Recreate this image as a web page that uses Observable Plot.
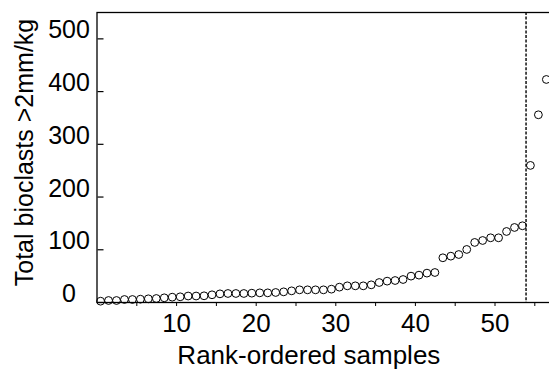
<!DOCTYPE html>
<html><head><meta charset="utf-8">
<script src="https://cdn.jsdelivr.net/npm/d3@7"></script>
<script src="https://cdn.jsdelivr.net/npm/@observablehq/plot@0.6"></script>
<style>html,body{margin:0;padding:0;background:#fff;overflow:hidden;width:549px;height:370px}</style>
</head><body><div id="chart"></div>
<script>
// Rank-ordered samples: total bioclasts >2mm per kg
const bioclasts = [2.5, 3.8, 3.8, 5.7, 5.7, 6.3, 7.0, 7.6, 8.9, 10.1,
  10.8, 12.3, 12.3, 12.7, 14.6, 16.4, 17.1, 17.1, 17.1, 17.7,
  18.3, 18.3, 19.0, 20.2, 22.1, 24.0, 24.0, 24.0, 24.0, 25.3,
  29.1, 31.6, 31.6, 31.6, 33.5, 37.9, 40.5, 41.7, 43.6, 50.0,
  51.9, 55.7, 56.9, 84.8, 87.9, 91.0, 100.6, 113.9, 117.6, 122.7,
  122.7, 134.7, 142.3, 145.5, 260, 356, 423];
const yTicks = [0, 100, 200, 300, 400, 500];
const xLabelTicks = [10, 20, 30, 40, 50];
const xMinorTicks = [5, 10, 15, 20, 25, 30, 35, 40, 45, 50, 55];
const cutoff = 53.9;           // dashed break between rank 54 and 55 (axis units)
const rankOffset = 0.55;       // each rank is drawn at the centre of its unit interval
const xLabel = "Rank-ordered samples";
const yLabel = "Total bioclasts >2mm/kg";

const data = bioclasts.map((v, i) => ({rank: i + 1, value: v}));
const font = "'Liberation Sans', Arial, sans-serif";

const chart = Plot.plot({
  width: 556, height: 370,
  marginLeft: 96.5, marginRight: 1.8, marginTop: 12, marginBottom: 68,
  style: {fontFamily: font, background: "#fff", color: "#000", overflow: "visible", maxWidth: "none"},
  x: {domain: [0, 57.5]},
  y: {domain: [0, 550]},
  marks: [
    Plot.axisY(yTicks, {anchor: "right", frameAnchor: "left", tickSize: 6, fill: "none", label: null, strokeWidth: 1.2}),
    Plot.axisY(yTicks, {anchor: "left", tickSize: 0, tickPadding: 28, textAnchor: "middle", fontSize: 25, dy: -8.4, label: null}),
    Plot.axisX(xMinorTicks, {anchor: "bottom", tickSize: 4, fill: "none", label: null, strokeWidth: 1}),
    Plot.axisX(xLabelTicks, {anchor: "bottom", tickSize: 0, tickPadding: 11, fontSize: 26, label: null}),
    Plot.frame({stroke: "#000", strokeWidth: 1.3}),
    Plot.ruleX([cutoff], {stroke: "#000", strokeWidth: 1.4, strokeDasharray: "3,1.6"}),
    Plot.dot(data, {x: d => d.rank - rankOffset, y: "value", r: 3.9, stroke: "#000", fill: "none", strokeWidth: 1}),
    Plot.text([yLabel], {text: d => d, frameAnchor: "left", textAnchor: "middle", lineAnchor: "middle", rotate: -90, dx: -72.5, dy: -5, fontSize: 25, fill: "#000"}),
    Plot.text([xLabel], {text: d => d, frameAnchor: "bottom", textAnchor: "middle", lineAnchor: "middle", dx: -17, dy: 53, fontSize: 26, fill: "#000"})
  ]
});
document.getElementById("chart").append(chart);
</script>
</body></html>
